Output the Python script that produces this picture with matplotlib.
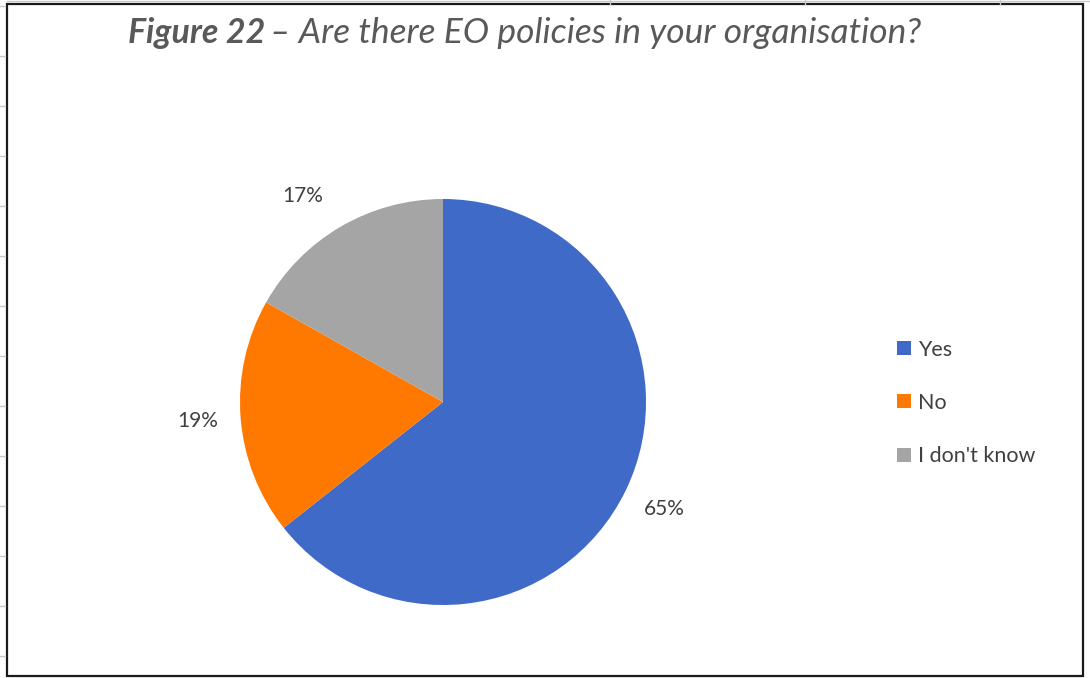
import matplotlib
matplotlib.use("Agg")
import matplotlib.pyplot as plt
from matplotlib.patches import Rectangle
from matplotlib.lines import Line2D
from matplotlib.text import Annotation

categories = ["Yes", "No", "I don't know"]
shares = [65, 19, 17]
colors = ["#3F6AC8", "#FF7800", "#A5A5A5"]
title_bold = "Figure 22"
title_rest = "\u2013 Are there EO policies in your organisation?"

plt.rcParams["font.family"] = ["Lato", "DejaVu Sans"]

W, H = 1090, 678
fig = plt.figure(figsize=(W / 100, H / 100), dpi=100)
fig.patch.set_facecolor("white")

def px(x, y):
    return x / W, 1 - y / H

# faint worksheet grid showing around the chart frame
for yy in range(6, 678, 50):
    x0, y0 = px(0, yy)
    x1, _ = px(5, yy)
    fig.add_artist(Line2D([x0, x1], [y0, y0], transform=fig.transFigure,
                          color="#c8c8c8", linewidth=1))
for xx in (610, 805, 1000):
    x0, y0 = px(xx, 0)
    _, y1 = px(xx, 4)
    fig.add_artist(Line2D([x0, x0], [y0, y1], transform=fig.transFigure,
                          color="#c8c8c8", linewidth=1))
x0, y0 = px(7, 1)
x1, _ = px(1090, 1)
fig.add_artist(Line2D([x0, x1], [y0, y0], transform=fig.transFigure,
                      color="#c8c8c8", linewidth=1))

# outer chart frame
fig.add_artist(Rectangle((7 / W, 2 / H), 1076 / W, 672 / H, transform=fig.transFigure,
                         fill=False, edgecolor="#1a1a1a", linewidth=1.6))

# pie axes
cx, cy, r = 443, 402, 203
ax = fig.add_axes([(cx - r) / W, (H - cy - r) / H, 2 * r / W, 2 * r / H])
wedges, _, autotexts = ax.pie(
    shares, colors=colors, startangle=90, counterclock=False,
    autopct="%.0f%%", pctdistance=1.21,
    wedgeprops=dict(linewidth=0),
)
for t, v in zip(autotexts, shares):
    t.set_text(f"{v}%")
    t.set_fontsize(15)
    t.set_color("#404040")
# best-fit style placement for the small top slice label
gx, gy = autotexts[2].get_position()
autotexts[2].set_position((gx - 0.08, gy - 0.03))
ax.set_xlim(-1, 1)
ax.set_ylim(-1, 1)
ax.set_aspect("auto")
ax.axis("off")

# legend
fig.legend(wedges, categories, loc="center left", bbox_to_anchor=(878 / W, 1 - 403 / H),
           frameon=False, fontsize=15.5, handlelength=0.62, handleheight=0.62,
           handletextpad=0.35, labelspacing=1.55, labelcolor="#404040")

# title: bold italic lead followed by italic text
t1 = fig.text(128 / W, 1 - 33 / H, title_bold, fontsize=24.5, fontstyle="italic",
              fontweight="bold", color="#595959", va="center", ha="left")
fig.add_artist(Annotation(
    title_rest, xy=(1, 0.5), xycoords=t1, xytext=(3, 0), textcoords="offset points",
    va="center", ha="left", fontsize=25.5, fontstyle="italic", color="#595959"))

fig.savefig("out.png", dpi=100, facecolor="white")
